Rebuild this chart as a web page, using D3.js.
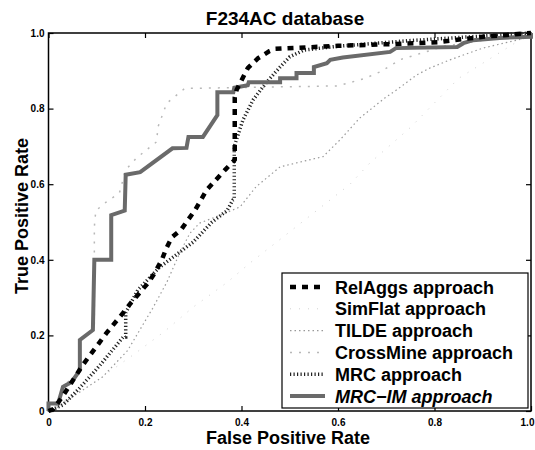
<!DOCTYPE html>
<html><head><meta charset="utf-8">
<script src="https://cdn.jsdelivr.net/npm/d3@7"></script>
<style>
body{margin:0;background:#fff;}
text{font-family:"Liberation Sans",Arial,Helvetica,sans-serif;font-weight:bold;}
</style></head>
<body>
<svg id="c" width="535" height="450"></svg>
<script>
const titleText = "F234AC database";
const xLabel = "False Positive Rate";
const yLabel = "True Positive Rate";
const tickValues = [0, 0.2, 0.4, 0.6, 0.8, 1.0];
const tickLabels = ["0", "0.2", "0.4", "0.6", "0.8", "1.0"];
const seriesNames = ["RelAggs approach", "SimFlat approach", "TILDE approach", "CrossMine approach", "MRC approach", "MRC\u2212IM approach"];

const relAggsFPR = [0,0.01,0.03,0.07,0.12,0.155,0.172,0.206,0.22,0.235,0.244,0.256,0.275,0.304,0.328,0.366,0.382,0.386,0.386,0.39,0.413,0.434,0.458,0.47,0.6,0.72,0.81,0.86,0.9,0.95,1];
const relAggsTPR = [0,0.005,0.04,0.12,0.206,0.26,0.288,0.338,0.365,0.4,0.43,0.46,0.48,0.532,0.585,0.638,0.659,0.665,0.83,0.85,0.907,0.933,0.952,0.958,0.966,0.971,0.976,0.984,0.99,0.995,1];

const simFlatFPR = [0,0.1,0.175,0.24,0.3,0.37,0.42,0.496,0.625,0.666,0.75,0.85,1];
const simFlatTPR = [0,0.08,0.148,0.21,0.275,0.34,0.394,0.47,0.6,0.656,0.75,0.88,1];

const tildeFPR = [0,0.01,0.112,0.164,0.216,0.245,0.272,0.293,0.313,0.36,0.397,0.43,0.48,0.569,0.604,0.645,0.697,0.722,0.763,0.79,0.832,0.9,1];
const tildeTPR = [0,0.003,0.09,0.16,0.272,0.34,0.418,0.47,0.497,0.52,0.54,0.593,0.646,0.673,0.717,0.775,0.828,0.85,0.889,0.907,0.929,0.96,0.99];

const crossMineFPR = [0,0.02,0.033,0.064,0.064,0.095,0.095,0.098,0.12,0.147,0.16,0.183,0.224,0.227,0.245,0.283,0.314,0.6,0.656,0.687,0.73,0.82,1];
const crossMineTPR = [0,0.02,0.07,0.1,0.19,0.214,0.487,0.53,0.553,0.577,0.638,0.67,0.712,0.752,0.814,0.854,0.854,0.86,0.88,0.897,0.93,0.965,1];

const mrcFPR = [0,0.03,0.064,0.106,0.155,0.16,0.16,0.185,0.23,0.3,0.339,0.37,0.382,0.385,0.385,0.403,0.424,0.452,0.48,0.5,0.53,0.6,0.75,1];
const mrcTPR = [0,0.016,0.06,0.12,0.196,0.196,0.26,0.32,0.38,0.447,0.5,0.53,0.558,0.56,0.70,0.77,0.823,0.87,0.91,0.937,0.955,0.965,0.98,1];

const mrcImFPR = [0,0,0.02,0.03,0.048,0.065,0.065,0.092,0.095,0.13,0.13,0.158,0.16,0.19,0.257,0.286,0.29,0.32,0.35,0.35,0.383,0.385,0.413,0.415,0.48,0.48,0.514,0.514,0.55,0.55,0.577,0.584,0.61,0.708,0.72,0.847,0.86,0.88,0.935,1,1];
const mrcImTPR = [0,0.02,0.02,0.064,0.077,0.108,0.188,0.214,0.40,0.40,0.518,0.53,0.625,0.632,0.695,0.696,0.725,0.725,0.783,0.843,0.843,0.855,0.862,0.87,0.87,0.88,0.88,0.894,0.894,0.91,0.92,0.929,0.935,0.95,0.96,0.963,0.973,0.981,0.987,0.99,1];

const svg = d3.select("#c");
const L = 48.5, R = 531, T = 33, B = 411;
const x = d3.scaleLinear().domain([0,1]).range([L,R]);
const y = d3.scaleLinear().domain([0,1]).range([B,T]);

// frame
svg.append("rect").attr("x",L).attr("y",T).attr("width",R-L).attr("height",B-T)
  .attr("fill","none").attr("stroke","#000").attr("stroke-width",1.5);

const fmt = (d,i)=>tickLabels[i];
const ax = [
  d3.axisBottom(x).tickValues(tickValues).tickFormat(fmt).tickSizeInner(-5).tickSizeOuter(0).tickPadding(8),
  d3.axisTop(x).tickValues(tickValues).tickFormat("").tickSizeInner(-5).tickSizeOuter(0),
  d3.axisLeft(y).tickValues(tickValues).tickFormat(fmt).tickSizeInner(-5).tickSizeOuter(0).tickPadding(4),
  d3.axisRight(y).tickValues(tickValues).tickFormat("").tickSizeInner(-5).tickSizeOuter(0)
];
const pos = [[0,B],[0,T],[L,0],[R,0]];
ax.forEach((a,i)=>{
  const g = svg.append("g").attr("transform",`translate(${pos[i][0]},${pos[i][1]})`).call(a);
  g.select(".domain").remove();
  g.selectAll("line").attr("stroke","#000").attr("stroke-width",1.2);
  g.selectAll("text").attr("font-size",10).attr("font-weight","bold")
   .attr("font-family",'"Liberation Sans",Arial,sans-serif').attr("fill","#000");
  if(i===0){
    g.selectAll("text").filter((d)=>d===1).attr("dx",-4);
  }
});

const styles = [
  {fpr:relAggsFPR, tpr:relAggsTPR, stroke:"#000", w:4.5, dash:"6,6"},
  {fpr:simFlatFPR, tpr:simFlatTPR, stroke:"#d0d0d0", w:1, dash:"1,8"},
  {fpr:tildeFPR, tpr:tildeTPR, stroke:"#999", w:1.2, dash:"1.5,3"},
  {fpr:crossMineFPR, tpr:crossMineTPR, stroke:"#b8b8b8", w:1.5, dash:"2,7"},
  {fpr:mrcFPR, tpr:mrcTPR, stroke:"#222", w:3.5, dash:"1.2,2.3"},
  {fpr:mrcImFPR, tpr:mrcImTPR, stroke:"#6a6a6a", w:4, dash:null}
];
const line = d3.line().x(d=>x(d[0])).y(d=>y(d[1]));
const order = [1,2,3,4,5,0];
order.forEach(i=>{
  const s = styles[i];
  const pts = s.fpr.map((f,k)=>[f,s.tpr[k]]);
  const p = svg.append("path").attr("d",line(pts)).attr("fill","none")
    .attr("stroke",s.stroke).attr("stroke-width",s.w).attr("stroke-linejoin","miter");
  if(s.dash) p.attr("stroke-dasharray",s.dash);
});

// title & labels
svg.append("text").attr("x",285).attr("y",25).attr("text-anchor","middle")
  .attr("font-size",19).text(titleText);
svg.append("text").attr("x",288).attr("y",444).attr("text-anchor","middle")
  .attr("font-size",18).text(xLabel);
svg.append("text").attr("transform",`translate(28,216) rotate(-90)`).attr("text-anchor","middle")
  .attr("font-size",18).text(yLabel);

// legend
const lg = svg.append("g");
lg.append("rect").attr("x",282).attr("y",273).attr("width",246).attr("height",135)
  .attr("fill","#fff").attr("stroke","#000").attr("stroke-width",1.2);
seriesNames.forEach((n,i)=>{
  const yy = 287 + i*21.8;
  const s = styles[i];
  const ln = lg.append("line").attr("x1",290).attr("x2",325).attr("y1",yy).attr("y2",yy)
    .attr("stroke",s.stroke).attr("stroke-width",s.w);
  if(s.dash) ln.attr("stroke-dasharray",s.dash);
  const t = lg.append("text").attr("x",335).attr("y",yy+6.5).attr("font-size",18).text(n);
  if(i===5) t.attr("font-style","italic");
});
</script>
</body></html>
